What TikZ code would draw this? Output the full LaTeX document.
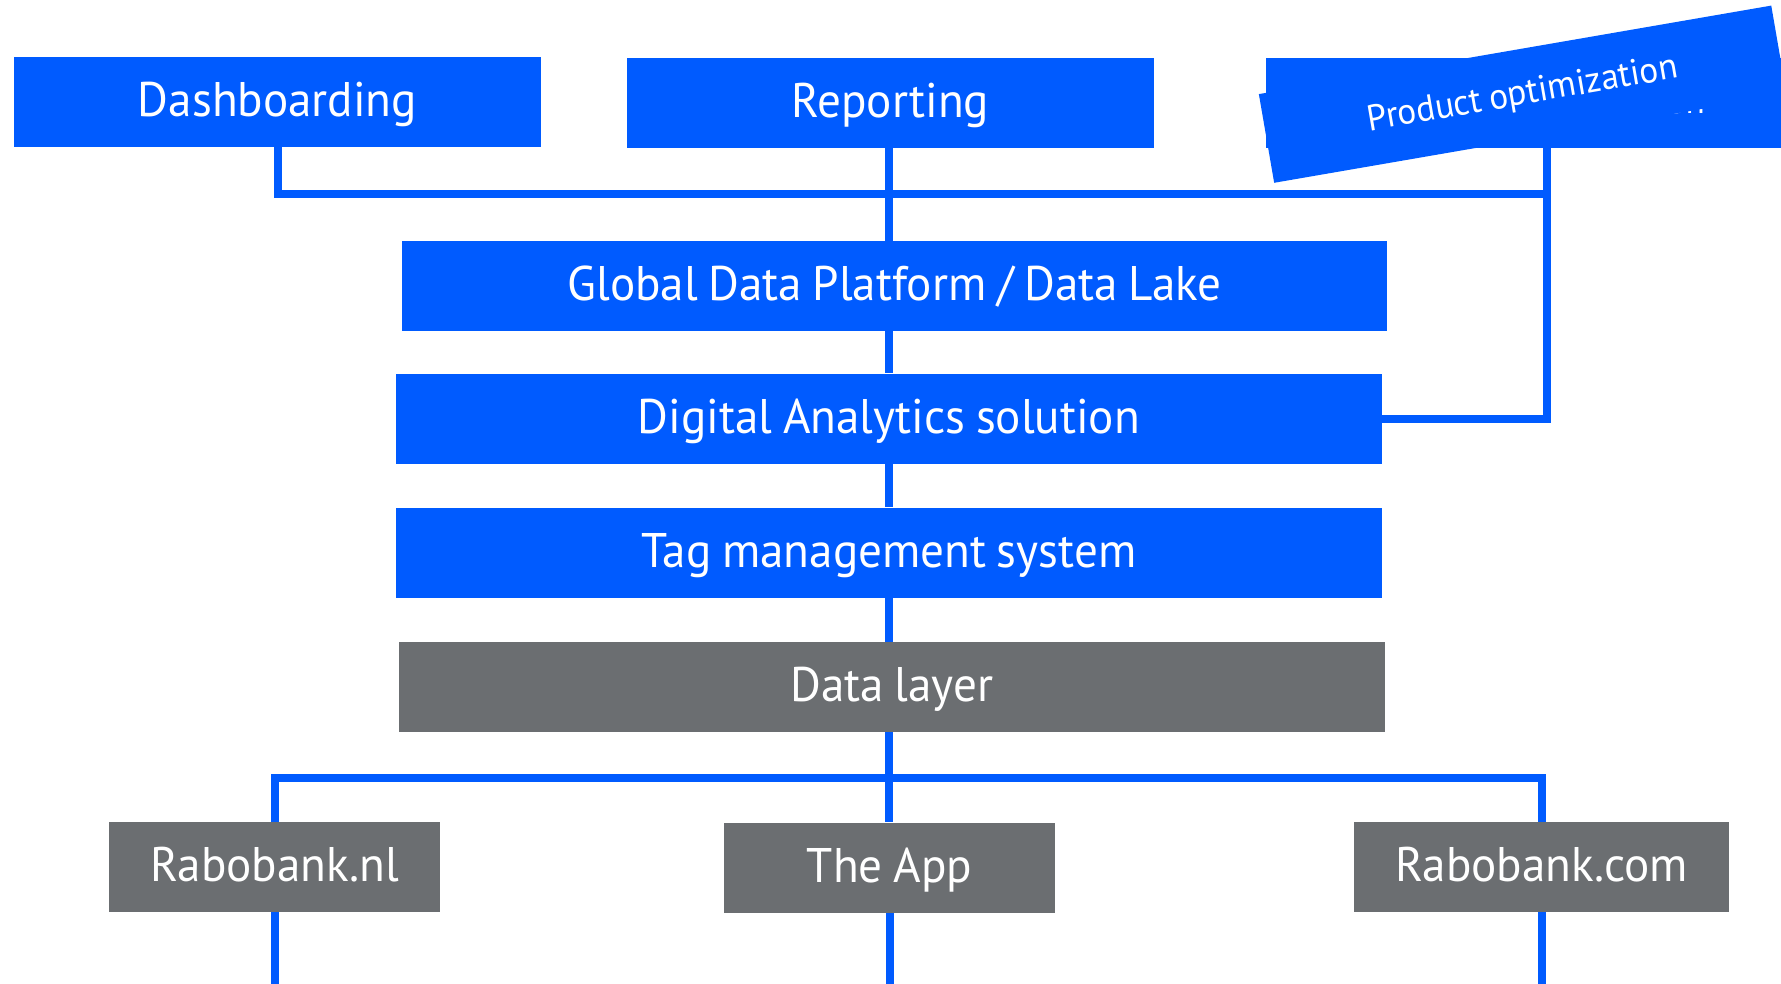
\documentclass[tikz,border=0pt]{standalone}
\usepackage{fontspec}
\setmainfont{PT Sans}[FakeStretch=0.97,WordSpace=0.85]
\definecolor{rblue}{HTML}{005BFF}
\definecolor{rgray}{HTML}{6B6E71}
\begin{document}
\begin{tikzpicture}[x=0.5pt,y=-0.5pt,
  box/.style={rectangle, inner sep=0pt, minimum height=45pt, text=white,
    font=\fontsize{24.3pt}{28pt}\selectfont, text height=17pt, text depth=2.5pt},
  bluebox/.style={box, fill=rblue},
  graybox/.style={box, fill=rgray},
  smallbox/.style={bluebox, font=\fontsize{18.2pt}{22pt}\selectfont, text height=12.75pt, text depth=2.5pt},
  wire/.style={draw=rblue, line width=4pt}]
\path[use as bounding box] (0,0) rectangle (1781,984);
\clip (0,0) rectangle (1781,984);

\coordinate (spine) at (889,0);
\coordinate (tb) at (0,194);
\coordinate (bb) at (0,777.5);
\coordinate (rv) at (1547,0);
\coordinate (floor) at (0,1000);

\node[bluebox, minimum width=263.5pt] (dash) at (277.5,102) {Dashboarding};
\node[bluebox, minimum width=263.5pt] (rep) at (890.5,103) {Reporting};
\node[smallbox, minimum width=282pt] (produ) at (1548,103) {Product optimization};
\node[bluebox, minimum width=492.5pt] (gdp) at (894.5,286) {Global Data Platform / Data Lake};
\node[bluebox, minimum width=493pt] (da) at (889,418.5) {Digital Analytics solution};
\node[bluebox, minimum width=493pt] (tms) at (889,552.5) {Tag management system};
\node[graybox, minimum width=493pt] (dl) at (892,687) {Data layer};
\node[graybox, minimum width=165.5pt] (rnl) at (274.5,867) {Rabobank.nl};
\node[graybox, minimum width=165.5pt] (app) at (889.5,867.5) {The App};
\node[graybox, minimum width=187.5pt] (rcom) at (1541.5,867) {Rabobank.com};
\node[smallbox, minimum width=260pt, rotate=9.8] (prodr) at (1522.7,94.2) {Product optimization};

% wires
\draw[wire] (dash.south) -- (dash.south |- tb) -- (rv |- tb);
\draw[wire] (da.east) -- (rv |- da.east) -- (rv |- produ.south);
\draw[wire] (rep.south -| spine) -- (gdp.north -| spine);
\draw[wire] (gdp.south -| spine) -- (da.north -| spine);
\draw[wire] (da.south -| spine) -- (tms.north -| spine);
\draw[wire] (tms.south -| spine) -- (dl.north -| spine);
\draw[wire] (dl.south -| spine) -- (app.north -| spine);
\draw[wire] (rnl.north) -- (rnl.north |- bb) -- (rcom.north |- bb) -- (rcom.north);
\draw[wire] (rnl.south) -- (rnl.south |- floor);
\draw[wire] (app.south) -- (app.south |- floor);
\draw[wire] (rcom.south) -- (rcom.south |- floor);
\end{tikzpicture}
\end{document}
